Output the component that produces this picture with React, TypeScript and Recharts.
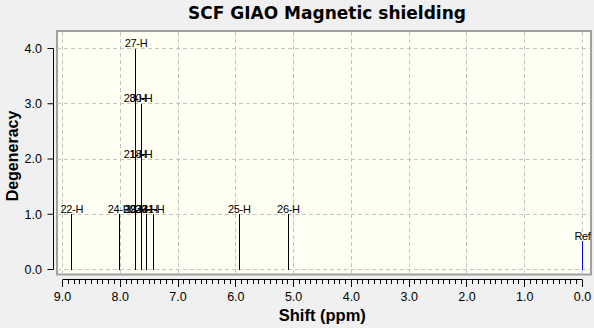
import React from "react";
import {
  ComposedChart,
  XAxis,
  YAxis,
  Scatter,
  ReferenceLine,
  ReferenceArea,
} from "recharts";

// one entry per hydrogen: label, shift (ppm), stacking level (degeneracy)
const ATOM_LABELS = [
  "22-H", "24-H", "20-H", "21-H", "28-H", "19-H", "27-H",
  "23-H", "18-H", "30-H", "29-H", "31-H", "25-H", "26-H",
];
const ATOM_SHIFTS = [
  8.84, 8.02, 7.745, 7.745, 7.745, 7.728, 7.728,
  7.64, 7.64, 7.64, 7.545, 7.43, 5.94, 5.09,
];
const ATOM_LEVELS = [1, 1, 1, 2, 3, 1, 4, 1, 2, 3, 1, 1, 1, 1];

const REF_LABELS = ["Ref"];
const REF_SHIFTS = [0.0];
const REF_LEVELS = [0.51];

const SHIFT_TICKS = [9, 8, 7, 6, 5, 4, 3, 2, 1, 0];
const SHIFT_TICK_LABELS = ["9.0", "8.0", "7.0", "6.0", "5.0", "4.0", "3.0", "2.0", "1.0", "0.0"];
const DEGENERACY_TICKS = [0, 1, 2, 3, 4];
const DEGENERACY_TICK_LABELS = ["0.0", "1.0", "2.0", "3.0", "4.0"];

// plot frame reaches a little past the axis ranges
const FRAME_X = [9.095, -0.147];
const FRAME_Y = [-0.09, 4.317];

const W = 594;
const H = 328;
const SANS = '"Liberation Sans", Arial, sans-serif';

const atoms = ATOM_LABELS.map((label, i) => ({
  label,
  x: ATOM_SHIFTS[i],
  y: ATOM_LEVELS[i],
}));
const refs = REF_LABELS.map((label, i) => ({
  label,
  x: REF_SHIFTS[i],
  y: REF_LEVELS[i],
}));

// minor ticks every 0.1 ppm between the major ones
const minorTicks: number[] = [];
for (let i = 0; i <= 90; i++) minorTicks.push(i / 10);

function ShiftTick({ x, y, payload }: any) {
  const v = payload.value as number;
  const major = Math.abs(v - Math.round(v)) < 1e-6;
  const idx = SHIFT_TICKS.indexOf(Math.round(v));
  return (
    <g>
      <line
        x1={x}
        x2={x}
        y1={y}
        y2={y + (major ? 7 : 4)}
        stroke="#000"
        shapeRendering="crispEdges"
      />
      {major && (
        <text
          x={x}
          y={y + 21.5}
          textAnchor="middle"
          fontFamily={SANS}
          fontSize={12.5}
          fill="#000"
        >
          {SHIFT_TICK_LABELS[idx]}
        </text>
      )}
    </g>
  );
}

function StickLabel({ cx, cy, payload }: any) {
  return (
    <text
      x={cx}
      y={cy - 1.5}
      textAnchor="middle"
      fontFamily={SANS}
      fontSize={11}
      letterSpacing={-0.3}
      fill="#000"
    >
      {payload.label}
    </text>
  );
}

export default function App() {
  return (
    <div
      style={{
        position: "absolute",
        left: 0,
        top: 0,
        width: W,
        height: H,
        background: "#f0f0f0",
        overflow: "hidden",
      }}
    >
      <ComposedChart
        width={W}
        height={H}
        margin={{ top: 48.5, right: 11.5, bottom: 0, left: 13.5 }}
      >
        <XAxis
          xAxisId="b_ppm"
          dataKey="x"
          type="number"
          domain={[0, 9]}
          reversed
          ticks={minorTicks}
          interval={0}
          tickSize={0}
          tickMargin={0}
          tickLine={false}
          axisLine={{ stroke: "#000" }}
          tick={<ShiftTick />}
          height={48.5}
        />
        <XAxis
          xAxisId="a_gap"
          dataKey="x"
          type="number"
          domain={[0, 9]}
          reversed
          height={10}
          tick={false}
          tickLine={false}
          axisLine={false}
        />
        <YAxis
          yAxisId="b_deg"
          dataKey="y"
          type="number"
          domain={[0, 4]}
          ticks={DEGENERACY_TICKS}
          interval={0}
          tickFormatter={(v) => DEGENERACY_TICK_LABELS[DEGENERACY_TICKS.indexOf(v)]}
          tickSize={6}
          tickMargin={5.5}
          tickLine={{ stroke: "#000" }}
          axisLine={{ stroke: "#000" }}
          tick={{ fill: "#000", fontSize: 12.5, fontFamily: SANS }}
          width={40}
        />
        <YAxis
          yAxisId="a_gap"
          dataKey="y"
          type="number"
          domain={[0, 4]}
          width={9}
          tick={false}
          tickLine={false}
          axisLine={false}
        />

        <ReferenceArea
          xAxisId="b_ppm"
          yAxisId="b_deg"
          x1={FRAME_X[0]}
          x2={FRAME_X[1]}
          y1={FRAME_Y[0]}
          y2={FRAME_Y[1]}
          ifOverflow="visible"
          fill="#fffff4"
          fillOpacity={1}
          stroke="#a0a0a0"
          strokeWidth={2}
        />

        {SHIFT_TICKS.map((t) => (
          <ReferenceLine
            key={"v" + t}
            xAxisId="b_ppm"
            yAxisId="b_deg"
            segment={[
              { x: t, y: FRAME_Y[0] },
              { x: t, y: FRAME_Y[1] },
            ]}
            ifOverflow="visible"
            stroke="#c4c4c4"
            strokeDasharray="4 3"
            shapeRendering="crispEdges"
          />
        ))}
        {DEGENERACY_TICKS.map((t) => (
          <ReferenceLine
            key={"h" + t}
            xAxisId="b_ppm"
            yAxisId="b_deg"
            segment={[
              { x: FRAME_X[0], y: t },
              { x: FRAME_X[1], y: t },
            ]}
            ifOverflow="visible"
            stroke="#c4c4c4"
            strokeDasharray="4 3"
            shapeRendering="crispEdges"
          />
        ))}

        {atoms.map((a, i) => (
          <ReferenceLine
            key={"s" + i}
            xAxisId="b_ppm"
            yAxisId="b_deg"
            segment={[
              { x: a.x, y: 0 },
              { x: a.x, y: a.y },
            ]}
            ifOverflow="visible"
            stroke="#000"
            shapeRendering="crispEdges"
          />
        ))}
        {refs.map((r, i) => (
          <ReferenceLine
            key={"r" + i}
            xAxisId="b_ppm"
            yAxisId="b_deg"
            segment={[
              { x: r.x, y: 0 },
              { x: r.x, y: r.y },
            ]}
            ifOverflow="visible"
            stroke="#0000ff"
            shapeRendering="crispEdges"
          />
        ))}

        <Scatter
          xAxisId="b_ppm"
          yAxisId="b_deg"
          data={atoms}
          dataKey="y"
          shape={<StickLabel />}
          isAnimationActive={false}
        />
        <Scatter
          xAxisId="b_ppm"
          yAxisId="b_deg"
          data={refs}
          dataKey="y"
          shape={<StickLabel />}
          isAnimationActive={false}
        />
      </ComposedChart>

      <svg
        width={W}
        height={H}
        style={{ position: "absolute", left: 0, top: 0, pointerEvents: "none" }}
      >
        <text
          x={327}
          y={19}
          textAnchor="middle"
          fontFamily='"DejaVu Sans", sans-serif'
          fontWeight="bold"
          fontSize={17}
          fill="#000"
        >
          SCF GIAO Magnetic shielding
        </text>
        <text
          x={322.3}
          y={321.3}
          textAnchor="middle"
          fontFamily={SANS}
          fontWeight="bold"
          fontSize={16.5}
          fill="#000"
        >
          Shift (ppm)
        </text>
        <text
          x={17.5}
          y={156}
          transform="rotate(-90 17.5 156)"
          textAnchor="middle"
          fontFamily={SANS}
          fontWeight="bold"
          fontSize={16}
          fill="#000"
        >
          Degeneracy
        </text>
      </svg>
    </div>
  );
}
